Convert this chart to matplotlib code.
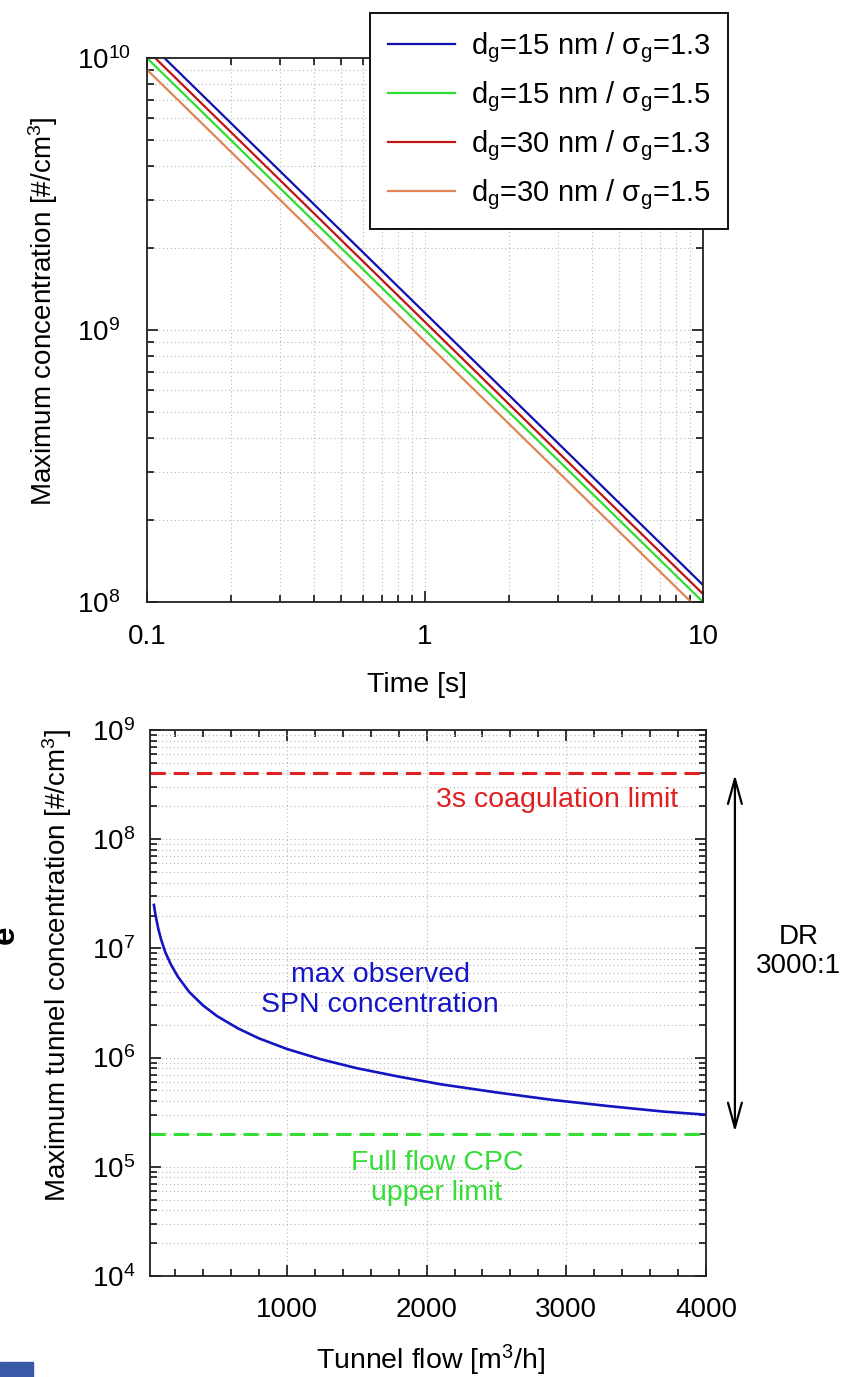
import numpy as np
import matplotlib
matplotlib.use("Agg")
import matplotlib.pyplot as plt
from matplotlib.ticker import LogLocator, FixedLocator, MultipleLocator, NullFormatter, LogFormatterMathtext
from matplotlib.patches import Rectangle

plt.rcParams['font.family'] = ['Liberation Sans', 'DejaVu Sans']
plt.rcParams['mathtext.fontset'] = 'custom'
plt.rcParams['mathtext.rm'] = 'Liberation Sans'
plt.rcParams['mathtext.it'] = 'Liberation Sans:italic'
plt.rcParams['mathtext.bf'] = 'Liberation Sans:bold'

# top panel: coagulation decay
time_s = [0.1, 1, 10]
conc_15_13 = [1.155e10, 1.155e9, 1.155e8]
conc_15_15 = [1.0e10, 1.0e9, 1.0e8]
conc_30_13 = [1.07e10, 1.07e9, 1.07e8]
conc_30_15 = [9.06e9, 9.06e8, 9.06e7]
series_labels = ["d$_\\mathregular{g}$=15 nm / σ$_\\mathregular{g}$=1.3",
                 "d$_\\mathregular{g}$=15 nm / σ$_\\mathregular{g}$=1.5",
                 "d$_\\mathregular{g}$=30 nm / σ$_\\mathregular{g}$=1.3",
                 "d$_\\mathregular{g}$=30 nm / σ$_\\mathregular{g}$=1.5"]
series_colors = ["#1010b0", "#30dd30", "#c01515", "#e08555"]
time_ticks = [0.1, 1, 10]
time_ticklabels = ["0.1", "1", "10"]

# bottom panel: tunnel concentration vs flow
flow = [48, 60, 80, 100, 130, 170, 220, 300, 400, 500, 650, 800, 1000,
        1250, 1500, 1800, 2100, 2500, 2900, 3300, 3700, 4000]
max_conc = [2.5e7, 2.0e7, 1.5e7, 1.2e7, 9.2e6, 7.1e6, 5.5e6, 4.0e6, 3.0e6,
            2.4e6, 1.85e6, 1.5e6, 1.2e6, 9.6e5, 8.0e5, 6.7e5, 5.7e5, 4.8e5,
            4.1e5, 3.6e5, 3.2e5, 3.0e5]
coag_limit = 4.0e8
cpc_limit = 2.0e5
flow_ticks = [1000, 2000, 3000, 4000]

W, H = 842, 1377
fig = plt.figure(figsize=(W / 100, H / 100), dpi=100)


def box(x0, y0, x1, y1):
    return [x0 / W, 1 - y1 / H, (x1 - x0) / W, (y1 - y0) / H]


def style(ax, xpad, ypad):
    for s in ax.spines.values():
        s.set_linewidth(1.3)
        s.set_color("#222222")
    ax.tick_params(which="both", direction="in", top=True, right=True,
                   labelsize=20, width=1.1)
    ax.tick_params(which="major", length=8)
    ax.tick_params(which="minor", length=5)
    ax.tick_params(axis="y", pad=ypad)
    ax.tick_params(axis="x", pad=xpad)


grid_kw = dict(color="#b8b8b8", linestyle=(0, (1, 2.5)), linewidth=0.8)

# ---- top panel
ax1 = fig.add_axes(box(147, 58, 703, 602))
for vals, lab, col in zip([conc_15_13, conc_15_15, conc_30_13, conc_30_15],
                          series_labels, series_colors):
    ax1.plot(time_s, vals, color=col, lw=1.6, label=lab)
ax1.set_xscale("log")
ax1.set_yscale("log")
ax1.set_xlim(0.1, 10)
ax1.set_ylim(1e8, 1e10)
ax1.xaxis.set_major_locator(FixedLocator(time_ticks))
ax1.set_xticklabels(time_ticklabels)
ax1.xaxis.set_minor_locator(LogLocator(subs=np.arange(2, 10)))
ax1.xaxis.set_minor_formatter(NullFormatter())
ax1.set_yticks([1e8, 1e9, 1e10])
ax1.yaxis.set_major_formatter(LogFormatterMathtext())
ax1.yaxis.set_minor_locator(LogLocator(subs=np.arange(2, 10)))
ax1.yaxis.set_minor_formatter(NullFormatter())
style(ax1, 16, 50.5)
for t in ax1.get_yticklabels():
    t.set_horizontalalignment("left")
ax1.grid(True, which="both", **grid_kw)
ax1.set_axisbelow(True)
ax1.set_ylabel("Maximum concentration [#/cm$^\\mathregular{3}$]", fontsize=20, va="center")
ax1.yaxis.set_label_coords(-0.187, 0.535)
ax1.set_xlabel("Time [s]", fontsize=20.5, va="center")
ax1.xaxis.set_label_coords(0.486, -0.153)

leg = ax1.legend(loc="upper left", bbox_to_anchor=(370 / W, 1 - 13 / H),
                 bbox_transform=fig.transFigure, fontsize=21, frameon=True,
                 fancybox=False, framealpha=1, edgecolor="#111111",
                 handlelength=2.3, handletextpad=0.57, labelspacing=0.49,
                 borderpad=0.6, borderaxespad=0)
leg.get_frame().set_linewidth(1.4)

# ---- bottom panel
ax2 = fig.add_axes(box(150, 730, 706, 1276))
ax2.plot(flow, max_conc, color="#1414c0", lw=1.9)
ax2.axhline(coag_limit, color="#e02020", lw=2.2, linestyle=(0, (5, 2.6)))
ax2.axhline(cpc_limit, color="#35dd35", lw=2.2, linestyle=(0, (5, 2.6)))
ax2.set_yscale("log")
ax2.set_xlim(20, 4000)
ax2.set_ylim(1e4, 1e9)
ax2.set_xticks(flow_ticks)
ax2.xaxis.set_minor_locator(MultipleLocator(200))
ax2.set_yticks([1e4, 1e5, 1e6, 1e7, 1e8, 1e9])
ax2.yaxis.set_major_formatter(LogFormatterMathtext())
ax2.yaxis.set_minor_locator(LogLocator(subs=np.arange(2, 10)))
ax2.yaxis.set_minor_formatter(NullFormatter())
style(ax2, 15, 41.5)
for t in ax2.get_yticklabels():
    t.set_horizontalalignment("left")
ax2.grid(True, which="major", axis="x", **grid_kw)
ax2.grid(True, which="both", axis="y", **grid_kw)
ax2.set_axisbelow(True)
ax2.set_ylabel("Maximum tunnel concentration [#/cm$^\\mathregular{3}$]", fontsize=20, va="center")
ax2.yaxis.set_label_coords(-0.167, 0.568)
ax2.set_xlabel("Tunnel flow [m$^\\mathregular{3}$/h]", fontsize=20.5, va="center")
ax2.xaxis.set_label_coords(0.504, -0.154)

ax2.text(0.95, 0.872, "3s coagulation limit", transform=ax2.transAxes,
         color="#e02020", fontsize=20.5, ha="right", va="center")
ax2.text(0.414, 0.524, "max observed\nSPN concentration", transform=ax2.transAxes,
         color="#1414c8", fontsize=20.5, ha="center", va="center", linespacing=1.2)
ax2.text(0.516, 0.18, "Full flow CPC\nupper limit", transform=ax2.transAxes,
         color="#35dd35", fontsize=20.5, ha="center", va="center", linespacing=1.2)
ax2.annotate("", xy=(1.052, 0.918), xytext=(1.052, 0.264), xycoords="axes fraction",
             textcoords="axes fraction", annotation_clip=False,
             arrowprops=dict(arrowstyle="<->,head_length=1.8,head_width=0.5",
                             color="black", lw=1.6, shrinkA=0, shrinkB=0))
ax2.text(1.166, 0.595, "DR\n3000:1", transform=ax2.transAxes, fontsize=20,
         ha="center", va="center", linespacing=1.15)

# slide leftovers at the edges
fig.patches.append(Rectangle((0, 0), 33 / W, 15 / H, transform=fig.transFigure,
                             color="#3a5aa8", zorder=5))
fig.text(-0.012, 1 - 935 / H, "e", rotation=90, fontsize=24, fontweight="bold",
         ha="left", va="center")

fig.savefig("out.png", dpi=100)
